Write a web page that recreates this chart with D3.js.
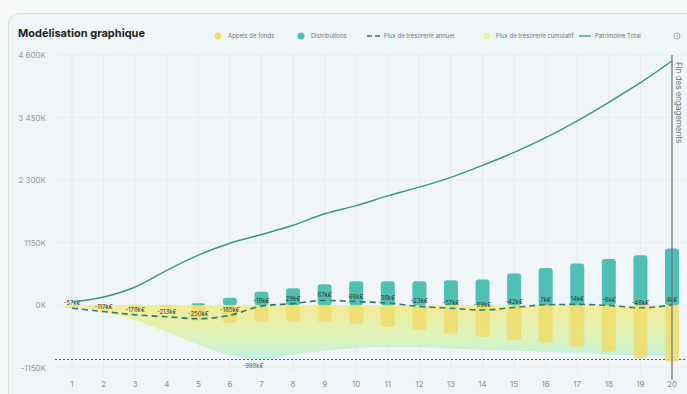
<!DOCTYPE html>
<html>
<head>
<meta charset="utf-8">
<script src="https://cdn.jsdelivr.net/npm/d3@7"></script>
<style>
    body { margin: 0; background: #f7f9f9; font-family: Inter, "Noto Sans", sans-serif; }
    svg { display: block; }
</style>
</head>
<body>
<svg width="687" height="394"></svg>
<script>
//Chart values (in K€)
const years = d3.range(1, 21);
const calls = [-57, -60, -61, -35, -280, -330, -306, -306, -306, -336, -397, -458, -519, -580, -642, -690, -763, -855, -977, -1040];
const distributions = [0, 0, 0, 0, 35, 135, 245, 310, 385, 440, 440, 440, 460, 470, 580, 685, 765, 850, 917, 1040];
const annualFlow = [-57, -117, -178, -213, -250, -185, -18, 29, 87, 66, 38, -23, -57, -89, -42, 7, 14, -6, -48, 4];
const cumulativeFlow = [0, -120, -280, -490, -730, -920, -998, -910, -840, -790, -770, -775, -800, -820, -840, -860, -880, -905, -930, -950];
const patrimoine = [60, 150, 335, 640, 920, 1140, 1300, 1470, 1680, 1830, 2010, 2170, 2350, 2570, 2810, 3080, 3390, 3730, 4090, 4490];
const yTicks = [-1150, 0, 1150, 2300, 3450, 4600];
const yTickLabels = ["-1150K", "0K", "1150K", "2 300K", "3 450K", "4 600K"];
const minCumulative = -998;

const svg = d3.select("svg");
const fmt = v => `${v}k€`;

//Card background
svg.append("rect")
    .attr("x", 8.5)
    .attr("y", 13.5)
    .attr("width", 700)
    .attr("height", 400)
    .attr("rx", 11)
    .attr("fill", "#f0f6f8")
    .attr("stroke", "#d6dcdd");

//Title
svg.append("text")
    .attr("x", 18)
    .attr("y", 37)
    .attr("font-size", "11px")
    .attr("font-weight", "bold")
    .attr("fill", "#1d2424")
    .text("Modélisation graphique");

//Scales
const x = d3.scalePoint()
    .domain(years)
    .range([72, 672]);

const y = d3.scaleLinear()
    .domain([-1150, 4600])
    .range([367.7, 55]);

//Grid lines
svg.append("g")
    .selectAll("line")
    .data(years)
    .enter()
    .append("line")
    .attr("x1", d => x(d))
    .attr("x2", d => x(d))
    .attr("y1", y(4600))
    .attr("y2", 372)
    .attr("stroke", "#e3ecef")
    .attr("stroke-width", 1);

svg.append("g")
    .selectAll("line")
    .data(yTicks)
    .enter()
    .append("line")
    .attr("x1", 55)
    .attr("x2", 687)
    .attr("y1", d => y(d))
    .attr("y2", d => y(d))
    .attr("stroke", "#e6eef1");

//Y axis labels
svg.append("g")
    .selectAll("text")
    .data(yTicks)
    .enter()
    .append("text")
    .attr("x", 46)
    .attr("y", d => y(d) + 3)
    .attr("text-anchor", "end")
    .attr("font-size", "8px")
    .attr("fill", "#959c9e")
    .text((d, i) => yTickLabels[i]);

//X axis labels
svg.append("g")
    .selectAll("text")
    .data(years)
    .enter()
    .append("text")
    .attr("x", d => x(d))
    .attr("y", 387)
    .attr("text-anchor", "middle")
    .attr("font-size", "8px")
    .attr("fill", "#8a9294")
    .text(d => d);

//Gradient for the cumulative area
const defs = svg.append("defs");
const grad = defs.append("linearGradient")
    .attr("id", "cumGrad")
    .attr("x1", 0).attr("y1", 0)
    .attr("x2", 0).attr("y2", 1);
grad.append("stop").attr("offset", "0%").attr("stop-color", "#f3ea86").attr("stop-opacity", 0.85);
grad.append("stop").attr("offset", "55%").attr("stop-color", "#dcf2a8").attr("stop-opacity", 0.8);
grad.append("stop").attr("offset", "100%").attr("stop-color", "#b6efdc").attr("stop-opacity", 0.8);

//Cumulative area
const area = d3.area()
    .x((d, i) => x(years[i]))
    .y0(y(0))
    .y1(d => y(d))
    .curve(d3.curveMonotoneX);

svg.append("path")
    .datum(cumulativeFlow)
    .attr("d", area)
    .attr("fill", "url(#cumGrad)");

//Minimum cumulative line
svg.append("line")
    .attr("x1", 55)
    .attr("x2", 687)
    .attr("y1", y(minCumulative))
    .attr("y2", y(minCumulative))
    .attr("stroke", "#4a5354")
    .attr("stroke-width", 1)
    .attr("stroke-dasharray", "2,2");

svg.append("text")
    .attr("x", 253)
    .attr("y", y(minCumulative) + 9)
    .attr("text-anchor", "middle")
    .attr("font-size", "6px")
    .attr("fill", "#59605f")
    .text(fmt(minCumulative));

//Bars
const barW = 14;
svg.append("g")
    .selectAll("path")
    .data(calls)
    .enter()
    .append("rect")
    .attr("x", (d, i) => x(years[i]) - barW / 2)
    .attr("y", y(0))
    .attr("width", barW)
    .attr("height", d => y(d) - y(0))
    .attr("rx", 3)
    .attr("fill", "#efdd6c")
    .attr("opacity", 0.85);

svg.append("g")
    .selectAll("rect")
    .data(distributions)
    .enter()
    .append("rect")
    .attr("x", (d, i) => x(years[i]) - barW / 2)
    .attr("y", d => y(d))
    .attr("width", barW)
    .attr("height", d => y(0) - y(d))
    .attr("rx", 3)
    .attr("fill", "#4fc0b3");

//Annual flow dashed line
const flowLine = d3.line()
    .x((d, i) => x(years[i]))
    .y(d => y(d))
    .curve(d3.curveMonotoneX);

svg.append("path")
    .datum(annualFlow)
    .attr("d", flowLine)
    .attr("fill", "none")
    .attr("stroke", "#2f7b70")
    .attr("stroke-width", 1.6)
    .attr("stroke-dasharray", "6,4");

//Flow labels
svg.append("g")
    .selectAll("text")
    .data(annualFlow)
    .enter()
    .append("text")
    .attr("x", (d, i) => x(years[i]))
    .attr("y", d => y(d) - 3)
    .attr("text-anchor", "middle")
    .attr("font-size", "6px")
    .attr("fill", "#2f3635")
    .text(d => fmt(d));

//Patrimoine line
svg.append("path")
    .datum(patrimoine)
    .attr("d", d3.line()
        .x((d, i) => x(years[i]))
        .y(d => y(d))
        .curve(d3.curveMonotoneX))
    .attr("fill", "none")
    .attr("stroke", "#3a978b")
    .attr("stroke-width", 1.5);

//End of commitments marker
svg.append("line")
    .attr("x1", x(20))
    .attr("x2", x(20))
    .attr("y1", 55)
    .attr("y2", 380)
    .attr("stroke", "#6b7272")
    .attr("stroke-width", 1.2);

svg.append("text")
    .attr("transform", `translate(${x(20) + 4}, 62) rotate(90)`)
    .attr("font-size", "8px")
    .attr("fill", "#6a7171")
    .text("Fin des engagements");

//Legend
const legend = svg.append("g").attr("font-size", "6px").attr("fill", "#6f7778");

legend.append("circle").attr("cx", 218).attr("cy", 36).attr("r", 3.5).attr("fill", "#efdd6c");
legend.append("text").attr("x", 228).attr("y", 38.2).text("Appels de fonds");

legend.append("circle").attr("cx", 301).attr("cy", 36).attr("r", 3.5).attr("fill", "#4fc0b3");
legend.append("text").attr("x", 311).attr("y", 38.2).text("Distributions");

legend.append("line").attr("x1", 367).attr("x2", 380).attr("y1", 36).attr("y2", 36)
    .attr("stroke", "#2f7b70").attr("stroke-width", 1.3).attr("stroke-dasharray", "5,3");
legend.append("text").attr("x", 384).attr("y", 38.2).text("Flux de trésorerie annuel");

legend.append("rect").attr("x", 484).attr("y", 33).attr("width", 6).attr("height", 6).attr("fill", "#eef0a0");
legend.append("text").attr("x", 496).attr("y", 38.2).text("Flux de trésorerie cumulatif");

legend.append("line").attr("x1", 579).attr("x2", 591).attr("y1", 36).attr("y2", 36)
    .attr("stroke", "#3a978b").attr("stroke-width", 1.3);
legend.append("text").attr("x", 595).attr("y", 38.2).text("Patrimoine Total");

legend.append("circle").attr("cx", 677).attr("cy", 36).attr("r", 3).attr("fill", "none")
    .attr("stroke", "#8a9294").attr("stroke-width", 0.7);
legend.append("text").attr("x", 677).attr("y", 38).attr("text-anchor", "middle").attr("font-size", "5px").text("i");
</script>
</body>
</html>
